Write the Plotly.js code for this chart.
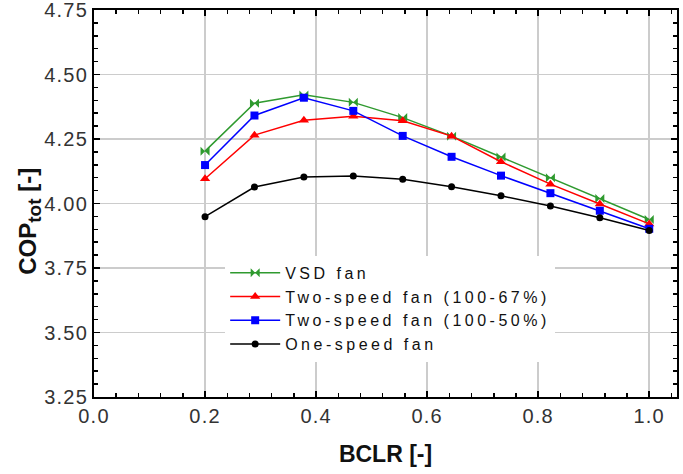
<!DOCTYPE html>
<html>
<head>
<meta charset="utf-8">
<script src="https://cdn.plot.ly/plotly-3.0.1.min.js"></script>
<style>
html,body{margin:0;padding:0;background:#fff;}
#chart{width:683px;height:474px;}
text.legendtext{letter-spacing:3.5px;}
#chart .xtick text, #chart .ytick text{letter-spacing:1.2px;}
</style>
</head>
<body>
<div id="chart"></div>
<script>
const bclr = [0.2, 0.289, 0.378, 0.467, 0.556, 0.644, 0.733, 0.822, 0.911, 1.0];
const vsdFan = [4.203, 4.389, 4.421, 4.392, 4.333, 4.261, 4.180, 4.100, 4.019, 3.938];
const twoSpeed67 = [4.096, 4.265, 4.323, 4.338, 4.321, 4.261, 4.162, 4.075, 3.998, 3.921];
const twoSpeed50 = [4.149, 4.341, 4.410, 4.359, 4.262, 4.181, 4.108, 4.040, 3.972, 3.902];
const oneSpeed = [3.949, 4.064, 4.103, 4.107, 4.094, 4.065, 4.030, 3.990, 3.945, 3.895];
const seriesNames = ["VSD fan", "Two-speed fan (100-67%)", "Two-speed fan (100-50%)", "One-speed fan"];
const yTickVals = [3.25, 3.50, 3.75, 4.00, 4.25, 4.50, 4.75];
const xTickVals = [0, 0.2, 0.4, 0.6, 0.8, 1.0];

const font = "Liberation Sans, Arial, sans-serif";
const traces = [
  {x: bclr, y: vsdFan, name: seriesNames[0], mode: "lines+markers",
   line: {color: "#2f9a2f", width: 1.5}, marker: {symbol: "bowtie", size: 9, color: "#2f9a2f"}},
  {x: bclr, y: twoSpeed67, name: seriesNames[1], mode: "lines+markers",
   line: {color: "#ff0000", width: 1.5}, marker: {symbol: "triangle-up", size: 9, color: "#ff0000"}},
  {x: bclr, y: twoSpeed50, name: seriesNames[2], mode: "lines+markers",
   line: {color: "#0000ff", width: 1.5}, marker: {symbol: "square", size: 8, color: "#0000ff"}},
  {x: bclr, y: oneSpeed, name: seriesNames[3], mode: "lines+markers",
   line: {color: "#000000", width: 1.5}, marker: {symbol: "circle", size: 7, color: "#000000"}}
];

const axisCommon = {
  showline: true, linecolor: "#000", linewidth: 2, mirror: "allticks",
  ticks: "inside", ticklen: 6, tickwidth: 1.5, tickcolor: "#000",
  showgrid: true, gridcolor: "#cccccc", gridwidth: 1.5,
  zeroline: false, ticklabeloverflow: "allow",
  tickfont: {family: font, size: 20, color: "#333"}
};

const layout = {
  width: 683, height: 474,
  margin: {l: 94, r: 6, t: 10, b: 77},
  paper_bgcolor: "#fff", plot_bgcolor: "#fff",
  showlegend: true,
  legend: {x: 0.225, y: 0.365, xanchor: "left", yanchor: "top",
           bgcolor: "rgba(255,255,255,1)", borderwidth: 0, itemwidth: 50,
           font: {family: font, size: 16, color: "#111"}, tracegroupgap: 0},
  xaxis: Object.assign({}, axisCommon, {
    range: [0, 1.05], tickmode: "array", tickvals: xTickVals,
    ticktext: xTickVals.map(v => v.toFixed(1)),
    minor: {tickmode: "linear", dtick: 0.04, tick0: 0, ticks: "inside", ticklen: 4, tickwidth: 1.5, tickcolor: "#000", showgrid: false},
    title: {text: "<b>BCLR [-]</b>", font: {family: font, size: 23, color: "#111"}, standoff: 20}
  }),
  yaxis: Object.assign({}, axisCommon, {
    range: [3.25, 4.75], tickmode: "array", tickvals: yTickVals,
    ticktext: yTickVals.map(v => v.toFixed(2)),
    minor: {tickmode: "linear", dtick: 0.05, tick0: 3.25, ticks: "inside", ticklen: 4, tickwidth: 1.5, tickcolor: "#000", showgrid: false},
    title: {text: ""}
  }),
  annotations: [{
    text: "<b>COP<sub><span style=\"font-size:19px\">tot</span></sub> [-]</b>", textangle: -90, showarrow: false,
    xref: "paper", yref: "paper", x: -0.11, y: 0.455, xanchor: "center", yanchor: "middle",
    font: {family: font, size: 24, color: "#111"}
  }]
};

Plotly.newPlot("chart", traces, layout, {displayModeBar: false, staticPlot: true});
</script>
</body>
</html>
